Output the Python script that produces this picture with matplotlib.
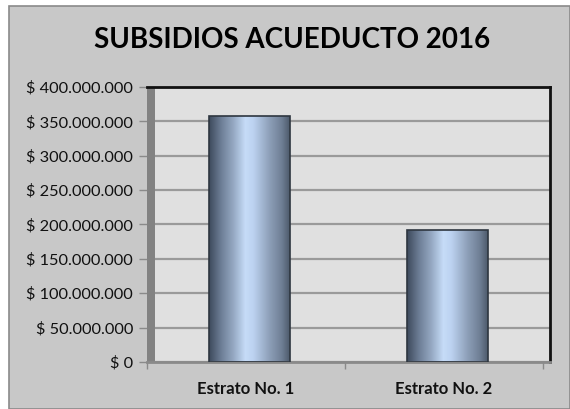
import matplotlib
matplotlib.use("Agg")
import matplotlib.pyplot as plt
import numpy as np
from matplotlib.patches import Rectangle
from matplotlib.colors import LinearSegmentedColormap
from matplotlib.ticker import FuncFormatter

# ---- data ----
categories = ["Estrato No. 1", "Estrato No. 2"]
values = [358000000, 192000000]
y_ticks = [0, 50000000, 100000000, 150000000, 200000000, 250000000, 300000000, 350000000, 400000000]
title = "SUBSIDIOS ACUEDUCTO 2016"

FONT = "Lato"
W, H = 570, 409
fig = plt.figure(figsize=(W / 100, H / 100), dpi=100, facecolor="white")

# chart area background with border
fig.patches.append(Rectangle((9 / W, 0), (W - 9) / W, (H - 6) / H, transform=fig.transFigure,
                             facecolor="#c8c8c8", edgecolor="#8a8a8a", linewidth=1.2, zorder=-5))

ax = fig.add_axes([147 / W, (H - 362) / H, (550 - 147) / W, (362 - 87) / H])
ax.set_zorder(1)
ax.set_facecolor("#e0e0e0")

# left 3D wall strip
ax.add_patch(Rectangle((0, 0), 8 / 403, 1, transform=ax.transAxes, facecolor="#828282",
                       edgecolor="none", zorder=1.5))

ax.set_yticks(y_ticks)
ax.yaxis.set_major_formatter(FuncFormatter(lambda v, p: "$ 0" if v == 0 else "$ " + f"{int(v):,}".replace(",", ".")))
ax.yaxis.grid(True, color="#9a9a9a", linewidth=1.6, zorder=1)
ax.set_axisbelow(True)
ax.tick_params(axis="y", length=6, width=1, color="#8a8a8a", pad=4, labelsize=11.8)
for lab in ax.get_yticklabels():
    lab.set_fontfamily(FONT)
    lab.set_color("#111111")

x = np.arange(len(categories))
ax.set_xticks([-0.5, 0.5, 1.5])
ax.set_xticklabels([])
ax.tick_params(axis="x", which="major", length=5, width=1, color="#8a8a8a")
ax.set_xticks(x, minor=True)
ax.set_xticklabels(categories, minor=True, fontfamily=FONT, fontweight="bold", fontsize=12, color="#111111")
ax.tick_params(axis="x", which="minor", length=0, pad=14)

ax.spines["left"].set_visible(False)
ax.spines["bottom"].set_color("#8a8a8a")
ax.spines["bottom"].set_linewidth(2)
ax.spines["top"].set_color("#111111")
ax.spines["top"].set_linewidth(2)
ax.spines["right"].set_color("#111111")
ax.spines["right"].set_linewidth(2)

# bars with cylindrical gradient
offset = 3.5 / 198
bars = ax.bar(x + offset, values, width=0.405, color="none", edgecolor="#2e3640", linewidth=1.2, zorder=3)
cmap = LinearSegmentedColormap.from_list("cyl", [
    (0.0, "#3d4a5c"), (0.15, "#6d7e96"), (0.3, "#95a8c2"), (0.45, "#c6dcf8"),
    (0.55, "#bcd2f0"), (0.75, "#8d9fb8"), (0.9, "#6f7f95"), (1.0, "#4d5a6b")])
grad = np.linspace(0, 1, 256).reshape(1, -1)
for b in bars:
    x0, y0, w, h = b.get_x(), b.get_y(), b.get_width(), b.get_height()
    im = ax.imshow(grad, cmap=cmap, aspect="auto", extent=(x0, x0 + w, y0, y0 + h), zorder=2.5,
                   interpolation="bilinear")
    im.set_clip_path(b)
ax.set_xlim(-0.5, (550 - 246) / 198)
ax.set_ylim(0, 400000000)

fig.text(292 / W, 1 - 40 / H, title, ha="center", va="center", fontfamily=FONT,
         fontweight="bold", fontsize=20, color="#000000")

fig.savefig("out.png", dpi=100, facecolor=fig.get_facecolor())
